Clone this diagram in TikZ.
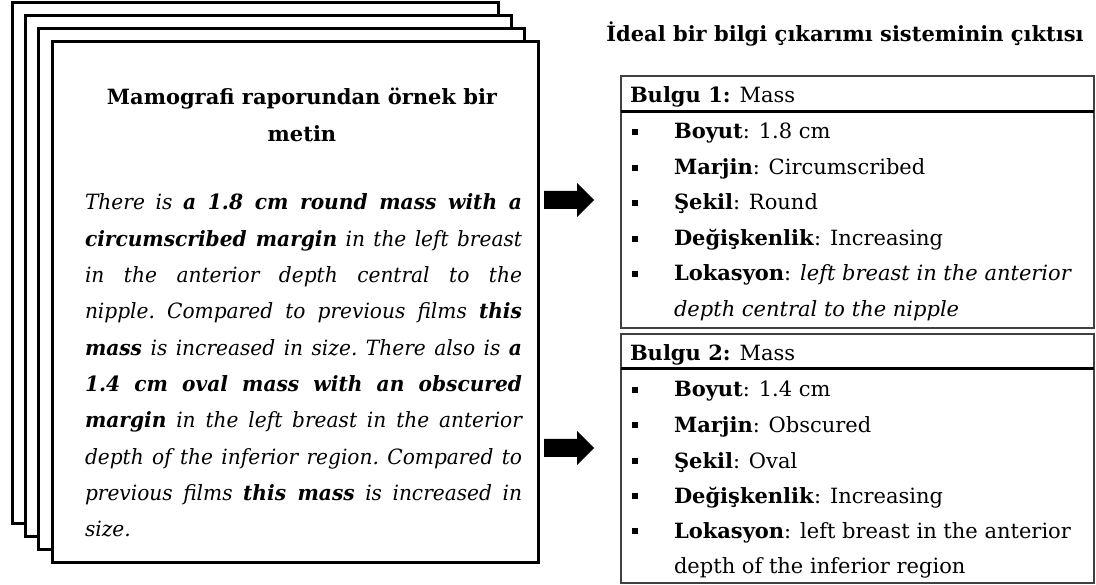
\documentclass[tikz,border=0pt]{standalone}
\usepackage{fontspec}
\setmainfont{DejaVu Serif}
\newfontfamily\bodyfont{DejaVu Serif}[FakeStretch=0.96]
\tikzset{
  page/.style={draw, line width=3pt, fill=white, anchor=north west, inner sep=0, outer sep=0, minimum width=486pt, minimum height=520pt},
  boxline/.style={draw=black!75, line width=1.5pt, anchor=north west, inner sep=0, outer sep=0, minimum width=473pt},
  sepline/.style={line width=3pt},
  blockarrow/.style={fill=black},
  bul/.style={fill=black, inner sep=0, outer sep=0, minimum size=6pt},
  lbl/.style={anchor=base west, inner sep=0, outer sep=0},
  ttl/.style={anchor=base, inner sep=0, outer sep=0, font=\fontsize{21}{25}\selectfont\bfseries},
}
\newcommand{\jline}[1]{\hbox to\linewidth{#1}}
\newcommand{\blockarrowat}[1]{\fill[blockarrow] (#1) ++(0,-9) -- ++(33,0) -- ++(0,-8) -- ++(17,17) -- ++(-17,17) -- ++(0,-8) -- ++(-33,0) -- cycle;}
\begin{document}
\begin{tikzpicture}[x=1pt,y=-1pt,font=\fontsize{21}{25}\selectfont]
\useasboundingbox (0,0) rectangle (1096,585);
% stacked pages
\node[page] (pg4) at (12,3) {};
\node[page] (pg3) at (25,16) {};
\node[page] (pg2) at (38,29) {};
\node[page] (pg1) at (52,42) {};
% page title
\node[ttl] (t1) at (302,105) {Mamografi raporundan örnek bir};
\node[ttl] (t2) at (302,142) {metin};
% page body
\node[anchor=base west, inner sep=0, outer sep=0] (body) at (85,210) {\begin{minipage}[t]{437pt}\bodyfont\fontsize{21}{36.33}\selectfont\itshape\frenchspacing\lineskiplimit=-\maxdimen
\jline{There is \textbf{a 1.8 cm round mass with a}}
\jline{\textbf{circumscribed margin} in the left breast}
\jline{in the anterior depth central to the}
\jline{nipple. Compared to previous films \textbf{this}}
\jline{\textbf{mass} is increased in size. There also is \textbf{a}}
\jline{\textbf{1.4 cm oval mass with an obscured}}
\jline{\textbf{margin} in the left breast in the anterior}
\jline{depth of the inferior region. Compared to}
\jline{previous films \textbf{this mass} is increased in}
\jline{size.\hfil}
\end{minipage}};
% arrows
\coordinate (a1) at (544,200);
\coordinate (a2) at (544,448);
\blockarrowat{a1}
\blockarrowat{a2}
% right title
\node[ttl] (rt) at (845,42) {İdeal bir bilgi çıkarımı sisteminin çıktısı};
% box 1
\node[boxline, minimum height=36pt] (h1) at (621,76) {};
\node[boxline, minimum height=216pt] (b1) at (621,112) {};
\draw[sepline] (h1.south west) -- (h1.south east);
\node[lbl] (h1t) at (630,103) {\textbf{Bulgu 1:} Mass};
\node[bul] (q11) at (635,132) {};
\node[lbl] (r11) at (674,139) {\textbf{Boyut}: 1.8 cm};
\node[bul] (q12) at (635,168) {};
\node[lbl] (r12) at (674,175) {\textbf{Marjin}: Circumscribed};
\node[bul] (q13) at (635,203) {};
\node[lbl] (r13) at (674,210) {\textbf{Şekil}: Round};
\node[bul] (q14) at (635,239) {};
\node[lbl] (r14) at (674,246) {\textbf{Değişkenlik}: Increasing};
\node[bul] (q15) at (635,274) {};
\node[lbl] (r15) at (674,281) {\textbf{Lokasyon}: \textit{left breast in the anterior}};
\node[lbl] (r16) at (674,317) {\textit{depth central to the nipple}};
% box 2
\node[boxline, minimum height=35pt] (h2) at (621,334) {};
\node[boxline, minimum height=214pt] (b2) at (621,369) {};
\draw[sepline] (h2.south west) -- (h2.south east);
\node[lbl] (h2t) at (630,361) {\textbf{Bulgu 2:} Mass};
\node[bul] (q21) at (635,390) {};
\node[lbl] (r21) at (674,397) {\textbf{Boyut}: 1.4 cm};
\node[bul] (q22) at (635,425) {};
\node[lbl] (r22) at (674,432) {\textbf{Marjin}: Obscured};
\node[bul] (q23) at (635,461) {};
\node[lbl] (r23) at (674,468) {\textbf{Şekil}: Oval};
\node[bul] (q24) at (635,496) {};
\node[lbl] (r24) at (674,503) {\textbf{Değişkenlik}: Increasing};
\node[bul] (q25) at (635,531) {};
\node[lbl] (r25) at (674,538) {\textbf{Lokasyon}: left breast in the anterior};
\node[lbl] (r26) at (674,573) {depth of the inferior region};
\end{tikzpicture}
\end{document}
